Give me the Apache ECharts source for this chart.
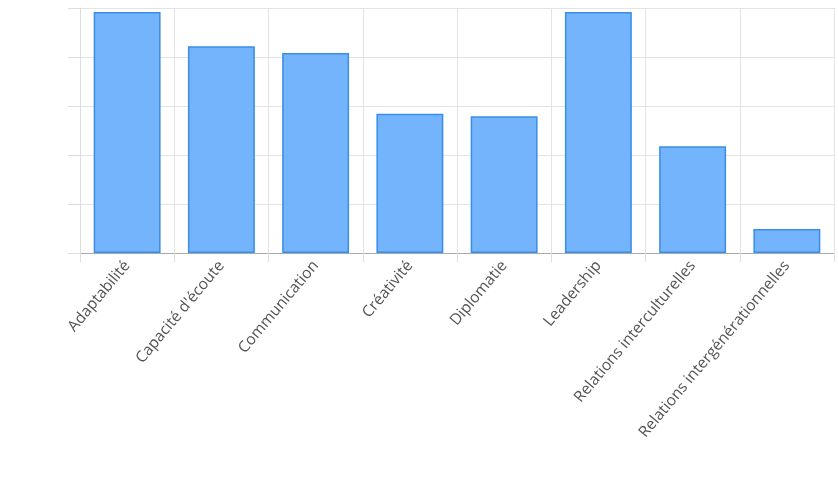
<!DOCTYPE html>
<html>
<head>
<meta charset="utf-8">
<script src="https://cdn.jsdelivr.net/npm/echarts@6/dist/echarts.min.js"></script>
<style>
  html, body { margin: 0; padding: 0; background: #fff; }
  #chart { width: 838px; height: 500px; }
</style>
</head>
<body>
<div id="chart"></div>
<script>
// catégories et valeurs
var categories = ['Adaptabilité', "Capacité d'écoute", 'Communication', 'Créativité', 'Diplomatie', 'Leadership', 'Relations interculturelles', 'Relations intergénérationnelles'];
var values = [4.92, 4.22, 4.08, 2.84, 2.79, 4.92, 2.18, 0.49];

var option = {
    animation: false,
    grid: {
        left: 80,
        right: 4,
        top: 8,
        bottom: 247
    },
    xAxis: {
        type: 'category',
        data: categories,
        axisLine: { lineStyle: { color: '#aaa' } },
        axisTick: { show: true, length: 9, lineStyle: { color: '#ddd' } },
        splitLine: { show: true, lineStyle: { color: '#e3e3e3' } },
        axisLabel: {
            rotate: 50,
            color: '#555',
            fontFamily: 'Open Sans',
            fontSize: 15.5,
            margin: 10
        }
    },
    yAxis: {
        type: 'value',
        min: 0,
        max: 5,
        interval: 1,
        axisLine: { show: true, lineStyle: { color: '#ddd' } },
        axisTick: { show: true, length: 12, lineStyle: { color: '#ddd' } },
        axisLabel: { show: false },
        splitLine: { lineStyle: { color: '#e3e3e3' } }
    },
    series: [{
        type: 'bar',
        data: values,
        barWidth: '71%',
        itemStyle: {
            color: '#74b4fc',
            borderColor: '#3a8ee6',
            borderWidth: 1.5
        }
    }]
};
var myChart = echarts.init(document.getElementById('chart'));
myChart.setOption(option);
</script>
</body>
</html>
